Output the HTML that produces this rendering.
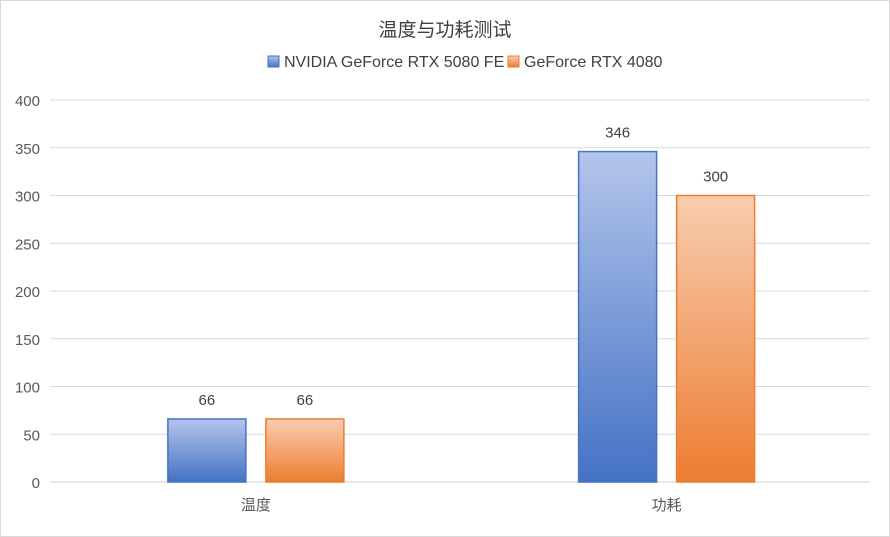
<!DOCTYPE html>
<html><head><meta charset="utf-8"><style>
html,body{margin:0;padding:0;background:#fff}
svg{display:block;font-family:"Liberation Sans","Noto Sans CJK SC",sans-serif}
</style></head><body>
<svg id="chart" width="890" height="537">
<defs>
<linearGradient id="gb" x1="0" y1="0" x2="0" y2="1"><stop offset="0" stop-color="#b3c5eb"/><stop offset="1" stop-color="#4472c4"/></linearGradient>
<linearGradient id="go" x1="0" y1="0" x2="0" y2="1"><stop offset="0" stop-color="#f8cdb0"/><stop offset="1" stop-color="#ed7d31"/></linearGradient>
</defs>
<rect x="0.5" y="0.5" width="889" height="536" fill="#fff" stroke="#d9d9d9"/>
<text x="445" y="36" text-anchor="middle" font-size="19" fill="#404040">温度与功耗测试</text>
<g>
<rect x="268" y="56" width="11" height="11" fill="url(#gb)" stroke="#4472c4"/>
<text x="284" y="67" font-size="16" fill="#404040">NVIDIA GeForce RTX 5080 FE</text>
<rect x="508" y="56" width="11" height="11" fill="url(#go)" stroke="#ed7d31"/>
<text x="524" y="67" font-size="16" fill="#404040">GeForce RTX 4080</text>
</g>
<g id="grid"></g><g id="bars"></g><g id="labels"></g>
</svg>
<script>
const categories=["温度","功耗"];
const series5080=[66,346];
const series4080=[66,300];
const yTicks=[0,50,100,150,200,250,300,350,400];
const svg=document.getElementById('chart');
const NS='http://www.w3.org/2000/svg';
const x0=50.5,x1=872,yTop=100,yBot=482,yMax=400;
const y=v=>yBot-(v/yMax)*(yBot-yTop);
const bw=(x1-x0)/categories.length;
const cx=i=>x0+bw*(i+0.5);
function mk(tag,attrs,parent,txt){const e=document.createElementNS(NS,tag);for(const k in attrs)e.setAttribute(k,attrs[k]);if(txt!==undefined)e.textContent=txt;document.getElementById(parent).appendChild(e);return e;}
yTicks.forEach(t=>{
 const l=mk('line',{x1:50,x2:870,y1:y(t),y2:y(t),stroke:t===0?'#d0d0d0':'#d9d9d9','stroke-width':1},'grid');
 
 
 const tx=mk('text',{x:40,y:y(t)+6,'text-anchor':'end','font-size':'15',fill:'#595959'},'grid',t);
 
 
});
const barW=78,gap=20;
categories.forEach((c,i)=>{
 [[series5080,'url(#gb)','#4472c4','5080',-1],[series4080,'url(#go)','#ed7d31','4080',1]].forEach(([s,f,st,nm,dir])=>{
  const v=s[i];
  const bx=dir<0?cx(i)-gap/2-barW:cx(i)+gap/2;
  const r=mk('rect',{x:bx,y:y(v),width:barW,height:yBot-y(v),fill:f,stroke:st,'stroke-width':1.5},'bars');
  
  
  const t=mk('text',{x:bx+barW/2,y:y(v)-14,'text-anchor':'middle','font-size':'15',fill:'#404040'},'labels',v);
  
  
 });
 const ct=mk('text',{x:cx(i),y:510,'text-anchor':'middle','font-size':'15',fill:'#595959'},'labels',c);
 
 
});
</script>
</body></html>
